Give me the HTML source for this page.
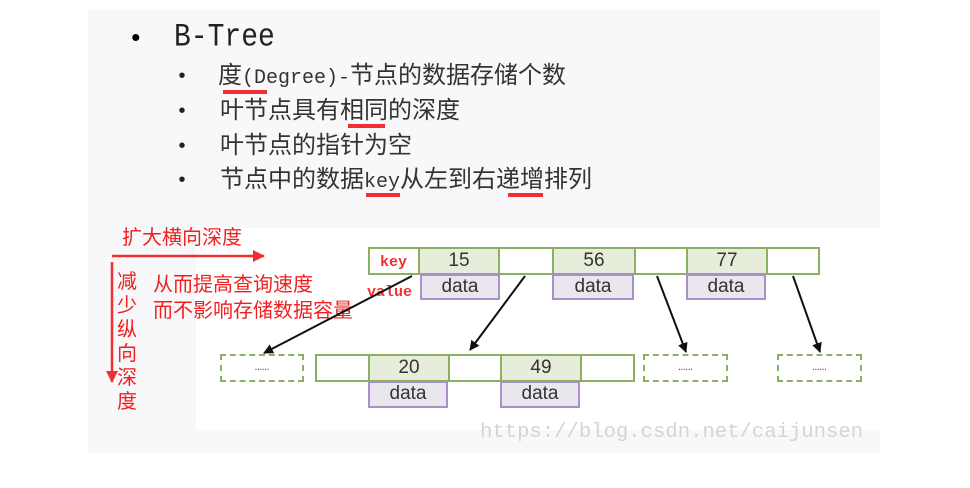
<!DOCTYPE html>
<html><head><meta charset="utf-8"><style>
body{margin:0;width:970px;height:488px;background:#fff;position:relative;overflow:hidden;font-family:"Liberation Mono","Noto Sans CJK SC",monospace}
.a{position:absolute}
.panel{left:88px;top:10px;width:792px;height:443px;background:#f8f8fa}
.white{left:196px;top:228px;width:684px;height:202px;background:#fff}
.t{color:#333;font-size:24px;line-height:24px;white-space:nowrap}
.t span{font-size:20px}
.u{background:#f03030;height:4px}
.r{color:#f02020;font-family:"Liberation Sans","Noto Sans CJK SC",sans-serif;font-size:20px;line-height:24px;white-space:nowrap}
.c{position:absolute;box-sizing:border-box;border:2px solid #8ab060;text-align:center;font-family:"Liberation Sans",sans-serif;font-size:19px;color:#333}
.g{background:#e6eedb}
.d{position:absolute;box-sizing:border-box;border:2px solid #a990c8;background:#e9e6ee;text-align:center;font-family:"Liberation Sans",sans-serif;font-size:19px;color:#333;line-height:22px}
.dash{position:absolute;box-sizing:border-box;border:2px dashed #8ab060;text-align:center;font-size:12px;color:#555;line-height:22px}
.b{font-size:20px;color:#222}
</style></head><body>
<div class="a panel"></div>
<div class="a white"></div>
<div class="a" style="left:128px;top:24px;font-size:26px">•</div>
<div class="a" style="left:174px;top:20px;font-size:28px;color:#222;transform:scaleY(1.15);transform-origin:top">B-Tree</div>
<div class="a b" style="left:176px;top:66px">•</div><div class="a t" style="left:218px;top:66px">度<span>(Degree)-</span>节点的数据存储个数</div>
<div class="a b" style="left:176px;top:101px">•</div><div class="a t" style="left:220px;top:101px">叶节点具有相同的深度</div>
<div class="a b" style="left:176px;top:136px">•</div><div class="a t" style="left:220px;top:136px">叶节点的指针为空</div>
<div class="a b" style="left:176px;top:170px">•</div><div class="a t" style="left:220px;top:170px">节点中的数据<span>key</span>从左到右递增排列</div>
<div class="a u" style="left:223px;top:90px;width:44px"></div>
<div class="a u" style="left:348px;top:124px;width:37px"></div>
<div class="a u" style="left:366px;top:193px;width:34px"></div>
<div class="a u" style="left:508px;top:193px;width:35px"></div>

<div class="a r" style="left:122px;top:226px">扩大横向深度</div>
<div class="a r" style="left:117px;top:270px;width:20px;white-space:normal">减少纵向深度</div>
<div class="a r" style="left:153px;top:273px">从而提高查询速度</div>
<div class="a r" style="left:153px;top:299px">而不影响存储数据容量</div>

<div class="c" style="left:368px;top:247px;width:52px;height:28px"></div>
<div class="a" style="left:380px;top:254px;color:#f03030;font-size:15px;font-weight:bold">key</div>
<div class="a" style="left:367px;top:284px;color:#f03030;font-size:15px;font-weight:bold">value</div>
<div class="c g" style="left:418px;top:247px;width:82px;height:28px;line-height:24px">15</div>
<div class="c" style="left:498px;top:247px;width:56px;height:28px"></div>
<div class="c g" style="left:552px;top:247px;width:84px;height:28px;line-height:24px">56</div>
<div class="c" style="left:634px;top:247px;width:54px;height:28px"></div>
<div class="c g" style="left:686px;top:247px;width:82px;height:28px;line-height:24px">77</div>
<div class="c" style="left:766px;top:247px;width:54px;height:28px"></div>
<div class="d" style="left:420px;top:274px;width:80px;height:26px">data</div>
<div class="d" style="left:552px;top:274px;width:82px;height:26px">data</div>
<div class="d" style="left:686px;top:274px;width:80px;height:26px">data</div>

<div class="dash" style="left:220px;top:354px;width:84px;height:28px">……</div>
<div class="c" style="left:315px;top:354px;width:55px;height:28px"></div>
<div class="c g" style="left:368px;top:354px;width:82px;height:28px;line-height:24px">20</div>
<div class="c" style="left:448px;top:354px;width:54px;height:28px"></div>
<div class="c g" style="left:500px;top:354px;width:82px;height:28px;line-height:24px">49</div>
<div class="c" style="left:580px;top:354px;width:55px;height:28px"></div>
<div class="d" style="left:368px;top:381px;width:80px;height:27px">data</div>
<div class="d" style="left:500px;top:381px;width:80px;height:27px">data</div>
<div class="dash" style="left:643px;top:354px;width:85px;height:28px">……</div>
<div class="dash" style="left:777px;top:354px;width:85px;height:28px">……</div>

<svg class="a" style="left:0;top:0" width="970" height="488">
<defs><marker id="k" markerWidth="10" markerHeight="10" refX="9" refY="5" orient="auto" markerUnits="userSpaceOnUse"><path d="M0,0 L10,5 L0,10 Z" fill="#111"/></marker>
<marker id="rd" markerWidth="12" markerHeight="12" refX="11" refY="6" orient="auto" markerUnits="userSpaceOnUse"><path d="M0,0 L12,6 L0,12 Z" fill="#f03030"/></marker></defs>
<g stroke="#111" stroke-width="2"><line x1="412" y1="276" x2="264" y2="353" marker-end="url(#k)"/>
<line x1="525" y1="276" x2="470" y2="350" marker-end="url(#k)"/>
<line x1="657" y1="276" x2="686" y2="352" marker-end="url(#k)"/>
<line x1="793" y1="276" x2="820" y2="352" marker-end="url(#k)"/></g>
<g stroke="#f03030" stroke-width="2.5"><line x1="112" y1="256" x2="264" y2="256" marker-end="url(#rd)"/>
<line x1="112" y1="262" x2="112" y2="382" marker-end="url(#rd)"/></g>
<text x="480" y="437" font-family="Liberation Mono,monospace" font-size="20.6" fill="#d4d4d4">https://blog.csdn.net/caijunsen</text>
</svg>
</body></html>
